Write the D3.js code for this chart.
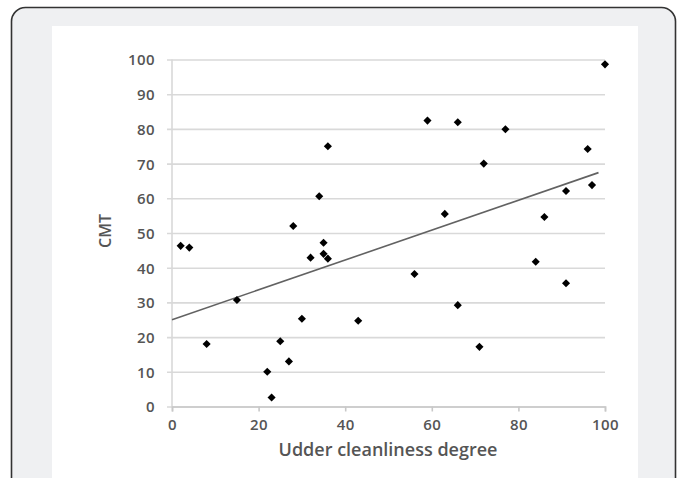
<!DOCTYPE html>
<html>
<head>
<meta charset="utf-8">
<script src="https://cdn.jsdelivr.net/npm/d3@7"></script>
<style>
  body { margin: 0; background: #fff; }
  svg { display: block; }
  .tick text { font-family: "Open Sans", sans-serif; font-size: 15px; font-weight: 600; fill: #555; letter-spacing: 0.4px; }
</style>
</head>
<body>
<svg class="scatter"></svg>
<script>
// udder cleanliness degree vs CMT
cleanliness = [2, 4, 8, 15, 22, 23, 25, 27, 28, 30, 32, 34, 35, 35, 36, 36, 43, 56, 59, 63, 66, 66, 71, 72, 77, 84, 86, 91, 91, 96, 97, 100];
cmt = [46.3, 45.8, 18, 30.7, 10, 2.6, 18.8, 13, 52, 25.3, 42.9, 60.6, 47.2, 44, 42.6, 75, 24.7, 38.2, 82.4, 55.5, 29.2, 81.9, 17.2, 70, 79.9, 41.7, 54.6, 35.5, 62.1, 74.2, 63.8, 98.6];

// trend line end points
trendX = [0, 98.5];
trendY = [25, 67.4];

xTicks = [0, 20, 40, 60, 80, 100];
yTicks = [0, 10, 20, 30, 40, 50, 60, 70, 80, 90, 100];

X_LABEL = "Udder cleanliness degree";
Y_LABEL = "CMT";

WIDTH = 681;
HEIGHT = 478;
PLOT = {left: 172, right: 605, top: 59.5, bottom: 406.5};

function makeChart() {
    svg = d3.select(".scatter").attr("width", WIDTH).attr("height", HEIGHT);
    addFrame(svg);
    x = d3.scaleLinear().domain([0, 100]).range([PLOT.left, PLOT.right]);
    y = d3.scaleLinear().domain([0, 100]).range([PLOT.bottom, PLOT.top]);
    addYAxis(svg, x, y);
    addXAxis(svg, x, y);
    addTrend(svg, x, y);
    addDots(svg, x, y);
    addLabels(svg);
}

function addFrame(svg) {
    svg.append("rect")
        .attr("x", 11.5).attr("y", 7.5)
        .attr("width", 664).attr("height", 500)
        .attr("rx", 14)
        .attr("fill", "#eff0f2")
        .attr("stroke", "#333")
        .attr("stroke-width", 1.6);
    svg.append("rect")
        .attr("x", 52).attr("y", 26)
        .attr("width", 586).attr("height", 460)
        .attr("fill", "#fff");
}

function addYAxis(svg, x, y) {
    g = svg.append("g")
        .attr("transform", "translate(" + PLOT.left + ",0)")
        .call(
            d3.axisLeft(y)
                .tickValues(yTicks)
                .tickSize(-(PLOT.right - PLOT.left))
                .tickPadding(17)
        );
    g.select(".domain").remove();
    g.selectAll(".tick line")
        .attr("x1", -5)
        .attr("stroke", "#d9d9d9")
        .attr("stroke-width", 1.6);
    g.selectAll(".tick text").attr("dy", "0.36em");
    svg.append("line")
        .attr("x1", PLOT.left).attr("x2", PLOT.left)
        .attr("y1", PLOT.top).attr("y2", PLOT.bottom)
        .attr("stroke", "#d9d9d9")
        .attr("stroke-width", 1.6);
}

function addXAxis(svg, x, y) {
    g = svg.append("g")
        .attr("transform", "translate(0," + PLOT.bottom + ")")
        .call(
            d3.axisBottom(x)
                .tickValues(xTicks)
                .tickSize(5)
                .tickPadding(8)
        );
    g.select(".domain")
        .attr("stroke", "#c8c8c8")
        .attr("stroke-width", 1.6);
    g.selectAll(".tick line")
        .attr("stroke", "#c8c8c8")
        .attr("stroke-width", 1.6);
}

function addTrend(svg, x, y) {
    svg.append("path")
        .datum(d3.zip(trendX, trendY))
        .attr("fill", "none")
        .attr("stroke", "#626262")
        .attr("stroke-width", 1.6)
        .attr("d", d3.line()
            .x(function(d) { return x(d[0]); })
            .y(function(d) { return y(d[1]); }));
}

function addDots(svg, x, y) {
    diamond = d3.symbol().type(d3.symbolDiamond2).size(42);
    svg.selectAll(".dot")
        .data(d3.zip(cleanliness, cmt))
        .enter().append("path")
        .attr("class", "dot")
        .attr("d", diamond)
        .attr("fill", "#000")
        .attr("transform", function(d) {
            return "translate(" + x(d[0]) + "," + y(d[1]) + ")";
        });
}

function addLabels(svg) {
    svg.append("text")
        .attr("x", 388).attr("y", 456)
        .attr("text-anchor", "middle")
        .attr("font-family", "Open Sans, sans-serif")
        .attr("font-size", 18)
        .attr("font-weight", 600)
        .attr("fill", "#555")
        .text(X_LABEL);
    svg.append("text")
        .attr("transform", "translate(111,231) rotate(-90)")
        .attr("text-anchor", "middle")
        .attr("font-family", "Open Sans, sans-serif")
        .attr("font-size", 16)
        .attr("font-weight", 600)
        .attr("fill", "#555")
        .text(Y_LABEL);
}

makeChart();
</script>
</body>
</html>
